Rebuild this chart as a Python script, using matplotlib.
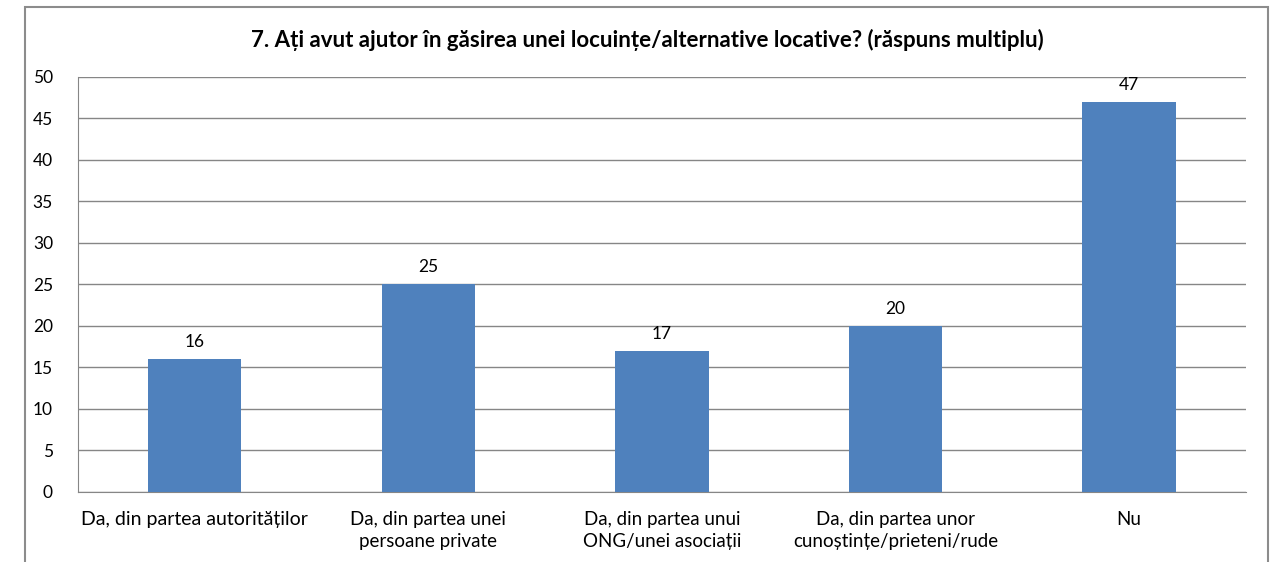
import numpy as np
import matplotlib
matplotlib.use('Agg')
import matplotlib.pyplot as plt
import matplotlib.patches as patches

# data
categories = ['Da, din partea autorităților',
              'Da, din partea unei\npersoane private',
              'Da, din partea unui\nONG/unei asociații',
              'Da, din partea unor\ncunoștințe/prieteni/rude',
              'Nu']
values = [16, 25, 17, 20, 47]
yticks = [0, 5, 10, 15, 20, 25, 30, 35, 40, 45, 50]
title = '7. Ați avut ajutor în găsirea unei locuințe/alternative locative? (răspuns multiplu)'

plt.rcParams['font.family'] = ['Lato', 'DejaVu Sans']

fig = plt.figure(figsize=(12.74, 5.62), dpi=100)
ax = fig.add_axes([0.0612, 0.1246, 0.9168, 0.7384])

# outer chart frame
frame = patches.Rectangle((0.0196, -0.05), 0.9755, 1.0375, transform=fig.transFigure,
                          fill=False, edgecolor='#8c8c8c', linewidth=1.5, clip_on=False)
fig.patches.append(frame)

x = np.arange(len(categories))
ax.bar(x, values, width=0.4, color='#4f81bd', zorder=3)
for xi, v in zip(x, values):
    ax.text(xi, v + 1.1, '%d' % v, ha='center', va='bottom', fontsize=12.5)

ax.set_xlim(-0.5, len(categories) - 0.5)
ax.set_ylim(0, 50)
ax.set_yticks(yticks)
ax.tick_params(axis='y', labelsize=12.5, length=0, pad=18)
ax.tick_params(axis='x', length=0, pad=14)
ax.set_xticks(x)
ax.set_xticklabels(categories, fontsize=13.5, linespacing=1.35)
ax.get_xticklabels()[0].set_fontsize(14)
ax.grid(axis='y', color='#868686', linewidth=1, zorder=0)

for side in ['top', 'right']:
    ax.spines[side].set_visible(False)
ax.spines['left'].set_color('#868686')
ax.spines['bottom'].set_color('#868686')

fig.text(0.508, 0.929, title, ha='center', va='center', fontsize=16, fontweight='bold')

fig.savefig('out.png', dpi=100)
